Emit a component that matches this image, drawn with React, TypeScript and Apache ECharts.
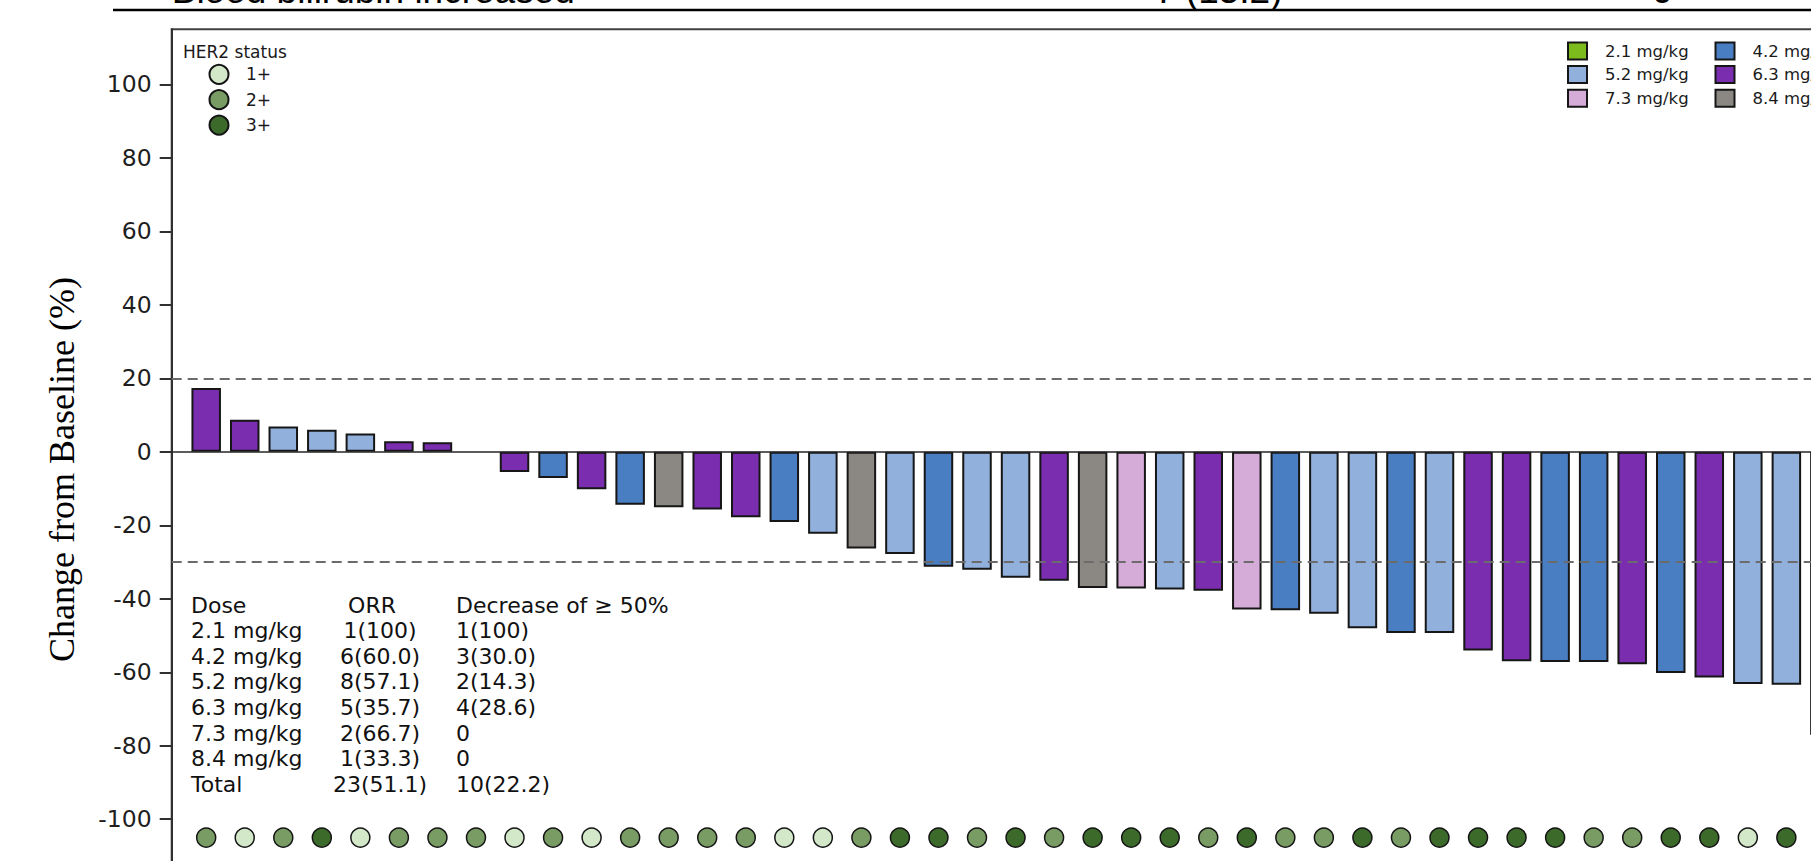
import React, { useEffect, useRef } from "react";
import * as echarts from "echarts";

// ---------- data ----------
const DOSES = ["2.1 mg/kg", "4.2 mg/kg", "5.2 mg/kg", "6.3 mg/kg", "7.3 mg/kg", "8.4 mg/kg"];
const DOSE_COLORS = ["#7cbc1d", "#4a7ec2", "#91b1dc", "#7b2db0", "#d5abd8", "#8b8883"];
const LEGEND_COL_1 = ["2.1 mg/kg", "5.2 mg/kg", "7.3 mg/kg"];
const LEGEND_COL_2 = ["4.2 mg/kg", "6.3 mg/kg", "8.4 mg/kg"];

// dose of each patient, in waterfall order
const PATIENT_DOSE = [
  "6.3 mg/kg", "6.3 mg/kg", "5.2 mg/kg", "5.2 mg/kg", "5.2 mg/kg", "6.3 mg/kg", "6.3 mg/kg", "4.2 mg/kg",
  "6.3 mg/kg", "4.2 mg/kg", "6.3 mg/kg", "4.2 mg/kg", "8.4 mg/kg", "6.3 mg/kg", "6.3 mg/kg", "4.2 mg/kg",
  "5.2 mg/kg", "8.4 mg/kg", "5.2 mg/kg", "4.2 mg/kg", "5.2 mg/kg", "5.2 mg/kg", "6.3 mg/kg", "8.4 mg/kg",
  "7.3 mg/kg", "5.2 mg/kg", "6.3 mg/kg", "7.3 mg/kg", "4.2 mg/kg", "5.2 mg/kg", "5.2 mg/kg", "4.2 mg/kg",
  "5.2 mg/kg", "6.3 mg/kg", "6.3 mg/kg", "4.2 mg/kg", "4.2 mg/kg", "6.3 mg/kg", "4.2 mg/kg", "6.3 mg/kg",
  "5.2 mg/kg", "5.2 mg/kg", "2.1 mg/kg",
];
// best % change from baseline
const CHANGE = [
  17.4, 8.7, 6.9, 6.0, 5.0, 2.9, 2.6, 0,
  -5.5, -7.1, -10.2, -14.4, -15.1, -15.7, -17.8, -19.1,
  -22.3, -26.3, -27.8, -31.3, -32.1, -34.3, -35.1, -37.1,
  -37.2, -37.5, -37.8, -42.9, -43.1, -44.1, -48.0, -49.3,
  -49.3, -54.1, -57.0, -57.2, -57.2, -57.8, -60.2, -61.4,
  -63.2, -63.4, -77.0,
];
const HER2_LEVELS = ["1+", "2+", "3+"];
const HER2_COLORS = ["#d3e8c9", "#789c64", "#3c6a2b"];
const PATIENT_HER2 = [
  "2+", "1+", "2+", "3+", "1+", "2+", "2+", "2+", "1+", "2+",
  "1+", "2+", "2+", "2+", "2+", "1+", "1+", "2+", "3+", "3+", "2+",
  "3+", "2+", "3+", "3+", "3+", "2+", "3+", "2+", "2+", "3+", "2+",
  "3+", "3+", "3+", "3+", "2+", "2+", "3+", "3+", "1+", "3+",
];
const HER2_ROW = -105;
const Y_TICKS = [-100, -80, -60, -40, -20, 0, 20, 40, 60, 80, 100];
const REF_LINES = [20, -30];

const TABLE_HEAD = ["Dose", "ORR", "Decrease of \u2265 50%"];
const TABLE_DOSE = ["2.1 mg/kg", "4.2 mg/kg", "5.2 mg/kg", "6.3 mg/kg", "7.3 mg/kg", "8.4 mg/kg", "Total"];
const TABLE_ORR = ["1(100)", "6(60.0)", "8(57.1)", "5(35.7)", "2(66.7)", "1(33.3)", "23(51.1)"];
const TABLE_DEC = ["1(100)", "3(30.0)", "2(14.3)", "4(28.6)", "0", "0", "10(22.2)"];
const TOP_ROW = ["Blood bilirubin increased", "7 (15.2)", "0"];

// ---------- layout ----------
const SANS = '"DejaVu Sans", Verdana, sans-serif';

export default function App() {
  const ref = useRef<HTMLDivElement>(null);

  useEffect(() => {
    if (!ref.current) return;
    const chart = echarts.init(ref.current, undefined, { renderer: "svg" });

    const barSeries = DOSES.map((d, k) => ({
      type: "bar",
      name: d,
      barWidth: 29.5,
      barGap: "-100%",
      z: 2,
      itemStyle: { color: DOSE_COLORS[k], borderColor: "#161616", borderWidth: 2 },
      data: CHANGE.map((v, i) =>
        PATIENT_DOSE[i] === d
          ? v === 0
            ? { value: [i + 1, v], itemStyle: { borderWidth: 0 } }
            : [i + 1, v]
          : null
      ).filter((x) => x !== null),
      ...(k === 0
        ? {
            markLine: {
              silent: true,
              symbol: ["none", "none"],
              z: 5,
              label: { show: false },
              lineStyle: { type: [10, 6], color: "#6b6b6b", width: 2 },
              data: [
                { yAxis: 0, lineStyle: { type: "solid", color: "#262626", width: 1.5 } },
                ...REF_LINES.map((v) => ({ yAxis: v })),
              ],
            },
          }
        : {}),
    }));

    const dotSeries = HER2_LEVELS.map((h, k) => ({
      type: "scatter",
      name: h,
      symbol: "circle",
      symbolSize: 19,
      z: 3,
      itemStyle: { color: HER2_COLORS[k], borderColor: "#141414", borderWidth: 1.5, opacity: 1 },
      data: PATIENT_HER2.map((v, i) => (v === h ? [i + 1, HER2_ROW] : null)).filter((x) => x !== null),
    }));

    const rowY = (r: number) => 605 + r * 25.6;
    const tableText: any[] = [];
    const tfont = `22px ${SANS}`;
    const txt = (text: string, x: number, y: number, align: string) => ({
      type: "text",
      x,
      y,
      style: { text, font: tfont, fill: "#111", align, verticalAlign: "middle", textAlign: align, textVerticalAlign: "middle" },
    });
    tableText.push(txt(TABLE_HEAD[0], 191, rowY(0), "left"));
    tableText.push(txt(TABLE_HEAD[1], 372, rowY(0), "center"));
    tableText.push(txt(TABLE_HEAD[2], 456, rowY(0), "left"));
    TABLE_DOSE.forEach((d, r) => {
      const y = rowY(r + 1);
      tableText.push(txt(d, 191, y, "left"));
      tableText.push(txt(TABLE_ORR[r], 380, y, "center"));
      tableText.push(txt(TABLE_DEC[r], 456, y, "left"));
    });

    const topFont = '37px "Liberation Sans", Arial, sans-serif';
    const topXs = [171.7, 1155, 1652];
    const topText = TOP_ROW.map((t, i) => ({
      type: "text",
      x: topXs[i],
      y: -9.3,
      style: { text: t, font: topFont, fill: "#000", align: "left", verticalAlign: "middle", textAlign: "left", textVerticalAlign: "middle" },
    }));

    const legendCommon = {
      orient: "vertical",
      padding: 0,
      selectedMode: false,
      icon: "rect",
      itemWidth: 19,
      itemHeight: 17,
      itemGap: 4.6,
      textStyle: { fontFamily: SANS, fontSize: 16.5, color: "#1a1a1a", padding: [0, 0, 0, 13] },
    };

    chart.setOption({
      animation: false,
      backgroundColor: "#ffffff",
      grid: {
        left: 171.7,
        top: 29.3,
        width: 1687.7,
        height: 863.4,
        show: true,
        borderColor: "#404040",
        borderWidth: 2,
        backgroundColor: "transparent",
        containLabel: false,
        outerBoundsMode: "none",
      },
      xAxis: {
        type: "value",
        min: 0.105,
        max: 43.895,
        axisLine: { show: false },
        axisTick: { show: false },
        axisLabel: { show: false },
        splitLine: { show: false },
      },
      yAxis: {
        type: "value",
        min: -120,
        max: 115,
        interval: 20,
        axisLine: { show: true, onZero: false, lineStyle: { color: "#303030", width: 2 } },
        axisTick: { show: true, inside: false, length: 12, customValues: Y_TICKS, lineStyle: { color: "#303030", width: 2 } },
        axisLabel: { customValues: Y_TICKS, margin: 20, fontFamily: SANS, fontSize: 23.5, color: "#1e1e1e" },
        splitLine: { show: false },
      },
      legend: [
        { ...legendCommon, data: LEGEND_COL_1, left: 1567, top: 41.5 },
        { ...legendCommon, data: LEGEND_COL_2, left: 1714.5, top: 41.5 },
        {
          orient: "vertical",
          padding: 0,
          selectedMode: false,
          data: HER2_LEVELS,
          left: 208.5,
          top: 63.8,
          itemWidth: 19,
          itemHeight: 19,
          itemGap: 4.4,
          textStyle: { fontFamily: SANS, fontSize: 17, color: "#1a1a1a", padding: [0, 0, 0, 12.5] },
        },
      ],
      graphic: [
        {
          type: "line",
          shape: { x1: 113, y1: 10, x2: 1900, y2: 10 },
          style: { stroke: "#000", lineWidth: 2.5 },
        },
        ...topText,
        {
          type: "text",
          x: 62,
          y: 469.5,
          rotation: Math.PI / 2,
          style: {
            text: "Change from Baseline (%)",
            font: '36px "Liberation Serif", "Times New Roman", serif',
            fill: "#000",
            align: "center",
            verticalAlign: "middle",
            textAlign: "center",
            textVerticalAlign: "middle",
          },
        },
        {
          type: "text",
          x: 183,
          y: 51.7,
          style: {
            text: "HER2 status",
            font: `17px ${SANS}`,
            fill: "#1a1a1a",
            align: "left",
            verticalAlign: "middle",
            textAlign: "left",
            textVerticalAlign: "middle",
          },
        },
        ...tableText,
      ],
      series: [...barSeries, ...dotSeries],
    });

    return () => chart.dispose();
  }, []);

  return (
    <div
      style={{
        position: "fixed",
        left: 0,
        top: 0,
        width: 1811,
        height: 861,
        overflow: "hidden",
        background: "#fff",
      }}
    >
      <div ref={ref} style={{ width: 1900, height: 930 }} />
    </div>
  );
}
